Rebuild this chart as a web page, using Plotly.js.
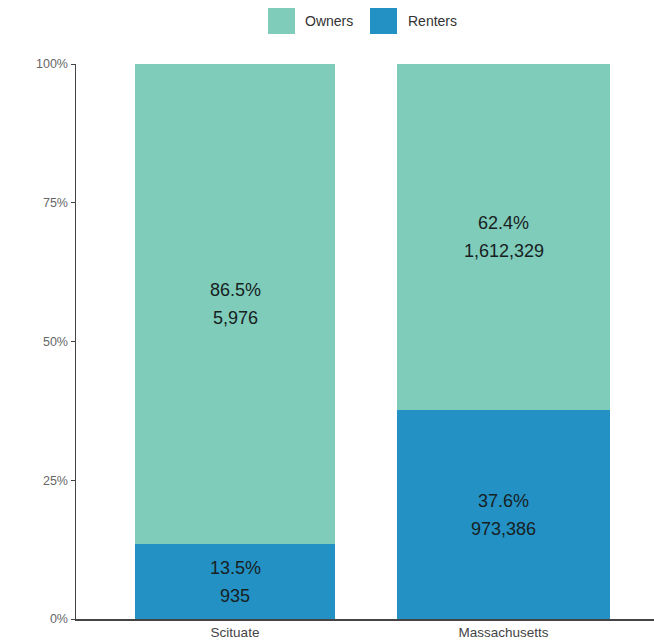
<!DOCTYPE html>
<html>
<head>
<meta charset="utf-8">
<script src="https://cdn.plot.ly/plotly-3.0.1.min.js"></script>
<style>html,body{margin:0;padding:0;background:#fff;}#chart{width:654px;height:641px;}</style>
</head>
<body>
<div id="chart"></div>
<script>
var categories = ["Scituate", "Massachusetts"];
var seriesNames = ["Owners", "Renters"];
var ownersPct = [86.5, 62.4];
var rentersPct = [13.5, 37.6];
var ownersCount = [5976, 1612329];
var rentersCount = [935, 973386];
var yTickVals = [0, 25, 50, 75, 100];
var yTickText = ["0%", "25%", "50%", "75%", "100%"];
var colors = ["#7fccba", "#2391c4"];

function fmt(n){ return n.toLocaleString("en-US"); }

var barWidths = [0.745, 0.793];
var traces = [
  {type: "bar", name: seriesNames[1], x: categories, y: rentersPct,
   marker: {color: colors[1], line: {width: 0}}, width: barWidths, hoverinfo: "skip", showlegend: false},
  {type: "bar", name: seriesNames[0], x: categories, y: ownersPct,
   marker: {color: colors[0], line: {width: 0}}, width: barWidths, hoverinfo: "skip", showlegend: false}
];

var annotations = [];
var labelFont = {family: "Liberation Sans, Arial, sans-serif", size: 18, color: "#17211f"};
categories.forEach(function(c, i){
  var segs = [
    {mid: rentersPct[i] / 2, pct: rentersPct[i], cnt: rentersCount[i]},
    {mid: rentersPct[i] + ownersPct[i] / 2, pct: ownersPct[i], cnt: ownersCount[i]}
  ];
  segs.forEach(function(s){
    annotations.push({x: c, y: s.mid, xref: "x", yref: "y", text: s.pct.toFixed(1) + "%",
      showarrow: false, yshift: 14, font: labelFont});
    annotations.push({x: c, y: s.mid, xref: "x", yref: "y", text: fmt(s.cnt),
      showarrow: false, yshift: -14, font: labelFont});
  });
});

// custom legend (top centre)
var W = 578, H = 555, L = 76, T = 64;
function px2x(p){ return (p - L) / W; }
function py2y(p){ return (T + H - p) / H; }
var legendItems = [
  {name: seriesNames[0], color: colors[0], x0: 268, tx: 303},
  {name: seriesNames[1], color: colors[1], x0: 370, tx: 406}
];
var shapes = [];
legendItems.forEach(function(it){
  shapes.push({type: "rect", xref: "paper", yref: "paper",
    x0: px2x(it.x0), x1: px2x(it.x0 + 27), y0: py2y(34), y1: py2y(8),
    fillcolor: it.color, line: {width: 0}});
  annotations.push({xref: "paper", yref: "paper", x: px2x(it.tx), y: py2y(21),
    xanchor: "left", yanchor: "middle", text: it.name, showarrow: false,
    font: {family: "Liberation Sans, Arial, sans-serif", size: 14, color: "#333"}});
});

var layout = {
  width: 654, height: 641,
  margin: {l: 76, r: 0, t: 64, b: 22, pad: 0},
  paper_bgcolor: "#fff", plot_bgcolor: "#fff",
  barmode: "stack",
  showlegend: false,
  xaxis: {type: "category", range: [-0.592, 1.56], showgrid: false, zeroline: false,
    showline: true, linecolor: "#444", linewidth: 1.5, ticks: "",
    tickfont: {family: "Liberation Sans, Arial, sans-serif", size: 13.5, color: "#444"}},
  yaxis: {range: [0, 100], tickvals: yTickVals, ticktext: yTickText, showgrid: false,
    zeroline: false, showline: true, linecolor: "#444", linewidth: 1.5, ticks: "outside",
    ticklen: 4, tickcolor: "#444", tickwidth: 1,
    tickfont: {family: "Liberation Sans, Arial, sans-serif", size: 12.5, color: "#666"}},
  annotations: annotations,
  shapes: shapes,
  font: {family: "Liberation Sans, Arial, sans-serif"}
};

Plotly.newPlot("chart", traces, layout, {staticPlot: true, displayModeBar: false});
</script>
</body>
</html>
